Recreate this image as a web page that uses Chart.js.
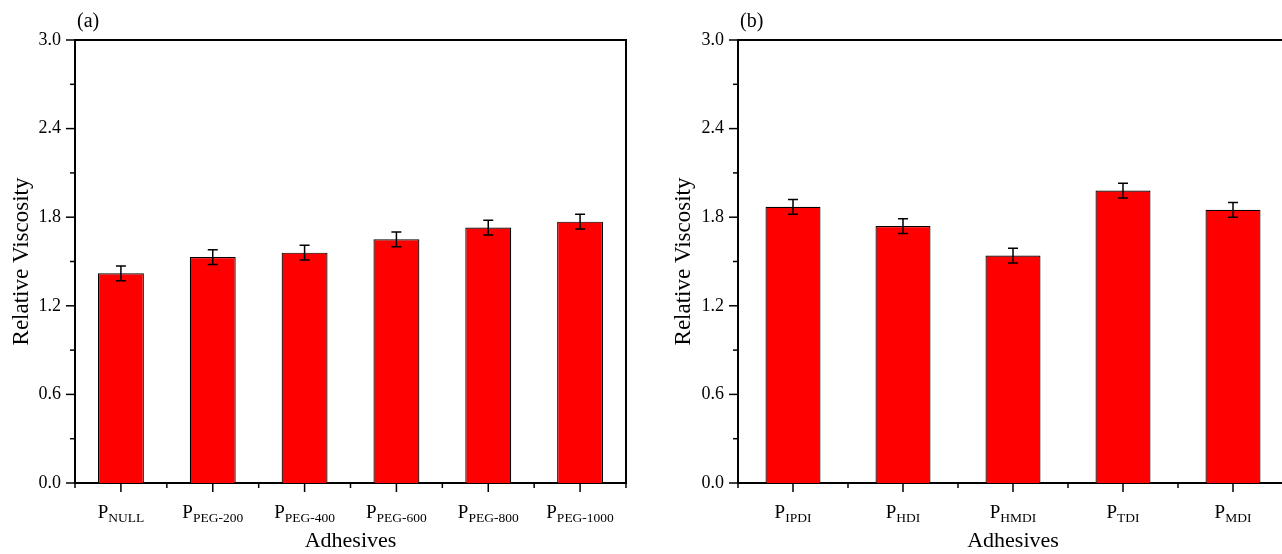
<!DOCTYPE html>
<html>
<head>
<meta charset="utf-8">
<script src="https://cdn.jsdelivr.net/npm/chart.js@4.4.0/dist/chart.umd.min.js"></script>
<style>
  html, body { margin: 0; padding: 0; background: #fff; overflow: hidden; width: 1282px; height: 554px; }
  #wrapA { position: absolute; left: 0; top: 0; width: 640px; height: 554px; }
  #wrapB { position: absolute; left: 640px; top: 0; width: 660px; height: 554px; }
</style>
</head>
<body>
<div id="wrapA"><canvas id="chartA"></canvas></div>
<div id="wrapB"><canvas id="chartB"></canvas></div>
<script>
// panel (a): PEG series
const subsA = ["NULL", "PEG-200", "PEG-400", "PEG-600", "PEG-800", "PEG-1000"];
const valuesA = [1.42, 1.53, 1.56, 1.65, 1.73, 1.77];
const errorsA = [0.05, 0.05, 0.05, 0.05, 0.05, 0.05];

// panel (b): isocyanate series
const subsB = ["IPDI", "HDI", "HMDI", "TDI", "MDI"];
const valuesB = [1.87, 1.74, 1.54, 1.98, 1.85];
const errorsB = [0.05, 0.05, 0.05, 0.05, 0.05];

const yMin = 0;
const yMax = 3.0;
const yStep = 0.3;   // minor ticks; labels on every second one

const serif = "'Liberation Serif', 'Times New Roman', serif";

// draws frame, ticks, error bars, subscript labels and titles
const decor = {
    id: "decor",
    afterDatasetsDraw(chart) {
        const o = chart.options.plugins.decor;
        const { ctx, chartArea: a, scales: { x, y } } = chart;
        const meta = chart.getDatasetMeta(0);

        ctx.save();
        ctx.strokeStyle = "#000";

        // error bars
        ctx.lineWidth = 1.5;
        meta.data.forEach((bar, i) => {
            const top = y.getPixelForValue(o.values[i] + o.errors[i]);
            const bot = y.getPixelForValue(o.values[i] - o.errors[i]);
            ctx.beginPath();
            ctx.moveTo(bar.x, top); ctx.lineTo(bar.x, bot);
            ctx.moveTo(bar.x - 5, top); ctx.lineTo(bar.x + 5, top);
            ctx.moveTo(bar.x - 5, bot); ctx.lineTo(bar.x + 5, bot);
            ctx.stroke();
        });

        // top and right frame
        ctx.lineWidth = 2;
        ctx.beginPath();
        ctx.moveTo(a.left, a.top);
        ctx.lineTo(a.right, a.top);
        ctx.lineTo(a.right, a.bottom);
        ctx.stroke();

        // y ticks (outward)
        ctx.lineWidth = 1.5;
        y.ticks.forEach((t, i) => {
            const py = y.getPixelForValue(t.value);
            const len = i % 2 === 0 ? 9 : 5;
            ctx.beginPath();
            ctx.moveTo(a.left - len, py); ctx.lineTo(a.left, py);
            ctx.stroke();
        });

        // x ticks: major at categories, minor at boundaries
        o.subs.forEach((s, i) => {
            const px = x.getPixelForValue(i);
            ctx.beginPath();
            ctx.moveTo(px, a.bottom); ctx.lineTo(px, a.bottom + 9);
            ctx.stroke();
        });
        for (let i = 0; i <= o.subs.length; i++) {
            const px = x.getPixelForValue(i - 0.5);
            ctx.beginPath();
            ctx.moveTo(px, a.bottom); ctx.lineTo(px, a.bottom + 5);
            ctx.stroke();
        }

        // x tick labels: P with subscript
        ctx.fillStyle = "#000";
        ctx.textBaseline = "alphabetic";
        ctx.textAlign = "left";
        o.subs.forEach((s, i) => {
            const px = x.getPixelForValue(i);
            ctx.font = "19px " + serif;
            const wP = ctx.measureText("P").width;
            ctx.font = "13.5px " + serif;
            const wS = ctx.measureText(s).width;
            const x0 = px - (wP + wS) / 2;
            ctx.font = "19px " + serif;
            ctx.fillText("P", x0, 518);
            ctx.font = "13.5px " + serif;
            ctx.fillText(s, x0 + wP, 522);
        });

        // axis titles
        ctx.font = "22px " + serif;
        ctx.textAlign = "center";
        ctx.textBaseline = "middle";
        ctx.fillText("Adhesives", (a.left + a.right) / 2, 541);
        ctx.font = "23px " + serif;
        ctx.save();
        ctx.translate(o.yTitleX, (a.top + a.bottom) / 2);
        ctx.rotate(-Math.PI / 2);
        ctx.fillText("Relative Viscosity", 0, 0);
        ctx.restore();

        // panel label
        ctx.font = "20px " + serif;
        ctx.textAlign = "left";
        ctx.textBaseline = "alphabetic";
        ctx.fillText(o.panel, a.left + 2, 27);

        ctx.restore();
    }
};

function makeChart(id, panel, subs, values, errors, axisWidth, padRight, yTitleX) {
    const ctx = document.getElementById(id).getContext("2d");
    return new Chart(ctx, {
        type: "bar",
        data: {
            labels: subs,
            datasets: [{
                data: values,
                backgroundColor: "#ff0000",
                borderColor: "#000",
                borderWidth: 1.2,
                borderSkipped: "bottom",
                barPercentage: 0.5,
                categoryPercentage: 1.0
            }]
        },
        options: {
            responsive: true,
            maintainAspectRatio: false,
            animation: false,
            layout: { padding: { top: 40, right: padRight, left: 0, bottom: 0 } },
            plugins: {
                legend: { display: false },
                tooltip: { enabled: false },
                decor: { panel, subs, values, errors, yTitleX }
            },
            scales: {
                x: {
                    grid: { display: false, drawTicks: false },
                    border: { color: "#000", width: 2 },
                    ticks: { display: false },
                    afterFit: s => { s.height = 71; }
                },
                y: {
                    min: yMin,
                    max: yMax,
                    grid: { display: false, drawTicks: false },
                    border: { color: "#000", width: 2 },
                    ticks: {
                        stepSize: yStep,
                        padding: 14,
                        color: "#000",
                        font: { family: serif, size: 18 },
                        callback: (v, i) => i % 2 === 0 ? Number(v).toFixed(1) : ""
                    },
                    afterFit: s => { s.width = axisWidth; }
                }
            }
        },
        plugins: [decor]
    });
}

makeChart("chartA", "(a)", subsA, valuesA, errorsA, 75, 14, 22);
makeChart("chartB", "(b)", subsB, valuesB, errorsB, 98, 12, 44);
</script>
</body>
</html>
